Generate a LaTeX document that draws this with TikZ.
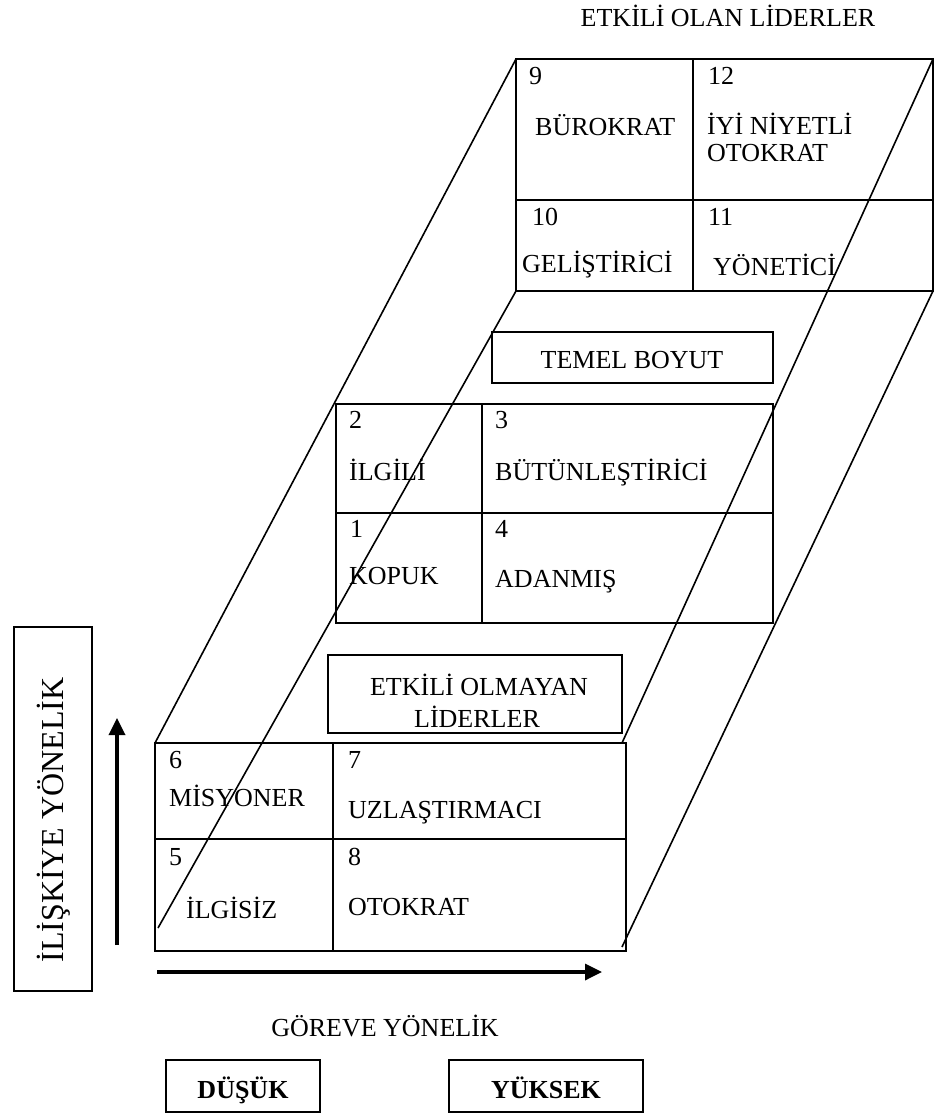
\documentclass[tikz,border=0pt]{standalone}
\usepackage{fontspec}
\setmainfont{Liberation Serif}
\usetikzlibrary{arrows.meta}
\begin{document}
\begin{tikzpicture}[x=1pt,y=-1pt,
  gridline/.style={line width=2.8pt},
  boxline/.style={line width=1.8pt},
  diagline/.style={line width=1.6pt},
  axisarrow/.style={line width=3.4pt,-{Triangle[length=17pt,width=16pt]}},
  txt/.style={inner sep=0pt,anchor=base west,font=\fontsize{26}{31}\selectfont},
  ctxt/.style={inner sep=0pt,anchor=base,font=\fontsize{26}{31}\selectfont},
  btxt/.style={inner sep=0pt,anchor=base,font=\fontsize{26}{31}\selectfont\bfseries},
]
\useasboundingbox (0,0) rectangle (935,1118);

% corner coordinates
\coordinate (tNW) at (516,59);
\coordinate (tNE) at (933,59);
\coordinate (tSW) at (516,291);
\coordinate (tSE) at (933,291);
\coordinate (mNW) at (336,404);
\coordinate (mSE) at (773,623);
\coordinate (bNW) at (155,743);
\coordinate (bSE) at (626,951);
\coordinate (e2) at (158,928);
\coordinate (e3) at (622,743);
\coordinate (e4) at (622,947);

% top grid
\draw[gridline] (tNW) rectangle (tSE);
\draw[gridline] (693,59) -- (693,291);
\draw[gridline] (516,200) -- (933,200);
% middle grid
\draw[gridline] (mNW) rectangle (mSE);
\draw[gridline] (482,404) -- (482,623);
\draw[gridline] (336,513) -- (773,513);
% bottom grid
\draw[gridline] (bNW) rectangle (bSE);
\draw[gridline] (333,743) -- (333,951);
\draw[gridline] (155,839) -- (626,839);

% diagonal edges
\draw[diagline] (tNW) -- (bNW);
\draw[diagline] (tSW) -- (e2);
\draw[diagline] (tNE) -- (e3);
\draw[diagline] (tSE) -- (e4);

% label boxes
\draw[boxline] (492,332) rectangle (773,383);
\node[ctxt] (temel) at (632,368) {TEMEL BOYUT};
\draw[boxline] (328,655) rectangle (622,733);
\node[ctxt] (eo1) at (479,695) {ETKİLİ OLMAYAN};
\node[ctxt] (eo2) at (477,727) {LİDERLER};

% top grid texts
\node[txt] (n9) at (529,85) {9};
\node[txt] (bur) at (535,136) {BÜROKRAT};
\node[txt] (n12) at (708,85) {12};
\node[txt] (iyi) at (707,135) {İYİ NİYETLİ};
\node[txt] (oto1) at (707,162) {OTOKRAT};
\node[txt] (n10) at (532,225) {10};
\node[txt] (gel) at (522,272) {GELİŞTİRİCİ};
\node[txt] (n11) at (708,225) {11};
\node[txt] (yon) at (713,275) {YÖNETİCİ};

% middle grid texts
\node[txt] (n2) at (349,428) {2};
\node[txt] (ilg) at (349,480) {İLGİLİ};
\node[txt] (n3) at (495,428) {3};
\node[txt] (but) at (495,480) {BÜTÜNLEŞTİRİCİ};
\node[txt] (n1) at (350,537) {1};
\node[txt] (kop) at (349,584) {KOPUK};
\node[txt] (n4) at (495,537) {4};
\node[txt] (ada) at (495,587) {ADANMIŞ};

% bottom grid texts
\node[txt] (n6) at (169,768) {6};
\node[txt] (mis) at (169,806) {MİSYONER};
\node[txt] (n7) at (348,768) {7};
\node[txt] (uzl) at (348,818) {UZLAŞTIRMACI};
\node[txt] (n5) at (169,865) {5};
\node[txt] (ilgs) at (186,918) {İLGİSİZ};
\node[txt] (n8) at (348,865) {8};
\node[txt] (oto2) at (348,915) {OTOKRAT};

% titles
\node[ctxt] (etk) at (728,27) {ETKİLİ OLAN LİDERLER};
\node[ctxt] (gor) at (385,1036) {GÖREVE YÖNELİK};

% left axis label
\draw[boxline] (14,627) rectangle (92,991);
\node[inner sep=0pt,anchor=base,rotate=90,font=\fontsize{32}{38}\selectfont] (rel) at (63,820) {İLİŞKİYE YÖNELİK};

% axis arrows
\coordinate (va0) at (117,945);
\coordinate (va1) at (117,718);
\draw[axisarrow] (va0) -- (va1);
\coordinate (ha0) at (157,972);
\coordinate (ha1) at (602,972);
\draw[axisarrow] (ha0) -- (ha1);

% low / high boxes
\draw[boxline] (166,1060) rectangle (320,1112);
\node[btxt] (dus) at (243,1098) {DÜŞÜK};
\draw[boxline] (449,1060) rectangle (643,1112);
\node[btxt] (yuk) at (546,1098) {YÜKSEK};
\end{tikzpicture}
\end{document}
